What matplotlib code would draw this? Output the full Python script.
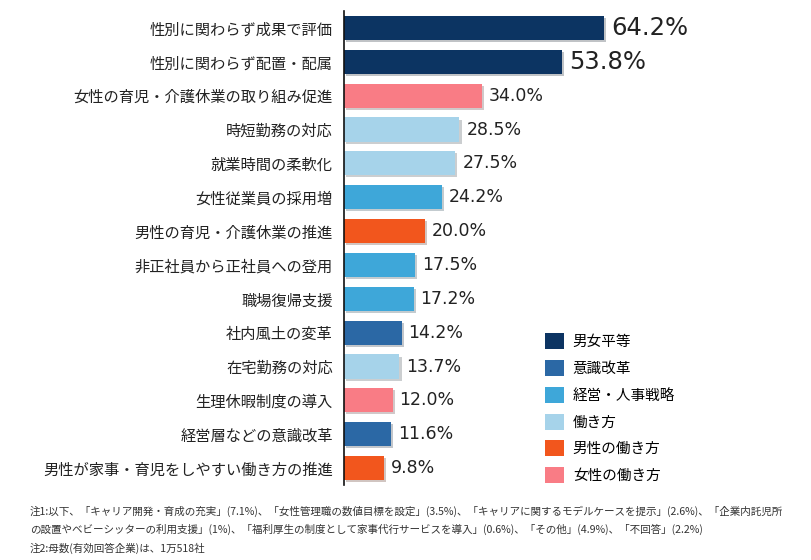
import matplotlib
matplotlib.use("Agg")
import matplotlib.pyplot as plt
import matplotlib.patheffects as pe
from matplotlib.patches import Patch

plt.rcParams['font.family'] = ['Noto Sans CJK JP', 'DejaVu Sans']

# data
categories = [
    "性別に関わらず成果で評価",
    "性別に関わらず配置・配属",
    "女性の育児・介護休業の取り組み促進",
    "時短勤務の対応",
    "就業時間の柔軟化",
    "女性従業員の採用増",
    "男性の育児・介護休業の推進",
    "非正社員から正社員への登用",
    "職場復帰支援",
    "社内風土の変革",
    "在宅勤務の対応",
    "生理休暇制度の導入",
    "経営層などの意識改革",
    "男性が家事・育児をしやすい働き方の推進",
]
values = [64.2, 53.8, 34.0, 28.5, 27.5, 24.2, 20.0, 17.5, 17.2, 14.2, 13.7, 12.0, 11.6, 9.8]
groups = ["男女平等", "男女平等", "女性の働き方", "働き方", "働き方", "経営・人事戦略",
          "男性の働き方", "経営・人事戦略", "経営・人事戦略", "意識改革", "働き方",
          "女性の働き方", "意識改革", "男性の働き方"]
group_names = ["男女平等", "意識改革", "経営・人事戦略", "働き方", "男性の働き方", "女性の働き方"]
group_colors = ["#0c3462", "#2b68a5", "#3ea7d9", "#a6d3ea", "#f2561d", "#f97c85"]

notes = [
    "注1:以下、「キャリア開発・育成の充実」(7.1%)、「女性管理職の数値目標を設定」(3.5%)、「キャリアに関するモデルケースを提示」(2.6%)、「企業内託児所",
    "の設置やベビーシッターの利用支援」(1%)、「福利厚生の制度として家事代行サービスを導入」(0.6%)、「その他」(4.9%)、「不回答」(2.2%)",
    "注2:母数(有効回答企業)は、1万518社",
]

color_of = dict(zip(group_names, group_colors))

fig = plt.figure(figsize=(8.11, 5.6), dpi=100)
ax = fig.add_axes([344 / 811, 1 - 485 / 560, 405 / 811, 474 / 560])

y = list(range(len(categories)))
ax.barh(y, values, height=0.71, color=[color_of[g] for g in groups],
        path_effects=[pe.SimplePatchShadow(offset=(1.5, -1.5), alpha=0.25), pe.Normal()])

for i, v in enumerate(values):
    big = i < 2
    ax.text(v + 1.7, i, f"{v:.1f}%", va="center", ha="left",
            fontsize=17.5 if big else 12.5, color="#222222", family="DejaVu Sans")

ax.set_xlim(0, 100)
ax.set_ylim(len(categories) - 0.5, -0.5)
ax.set_yticks(y)
ax.set_yticklabels(categories, fontsize=11, color="#222222")
ax.tick_params(axis="y", length=0, pad=8)
ax.set_xticks([])
for side in ["top", "right", "bottom"]:
    ax.spines[side].set_visible(False)
ax.spines["left"].set_color("#111111")
ax.spines["left"].set_linewidth(1.2)

handles = [Patch(facecolor=c, edgecolor="none") for c in group_colors]
fig.legend(handles, group_names, loc="upper left", bbox_to_anchor=(532 / 811, 1 - 320 / 560),
           frameon=False, fontsize=10.5, handlelength=1.3, handleheight=1.3,
           labelspacing=0.75, handletextpad=0.6)

for k, yy in enumerate([511, 529, 548]):
    fig.text(30 / 811, 1 - yy / 560, notes[k], fontsize=7.6, color="#333333", va="center")

fig.savefig("out.png", dpi=100)
